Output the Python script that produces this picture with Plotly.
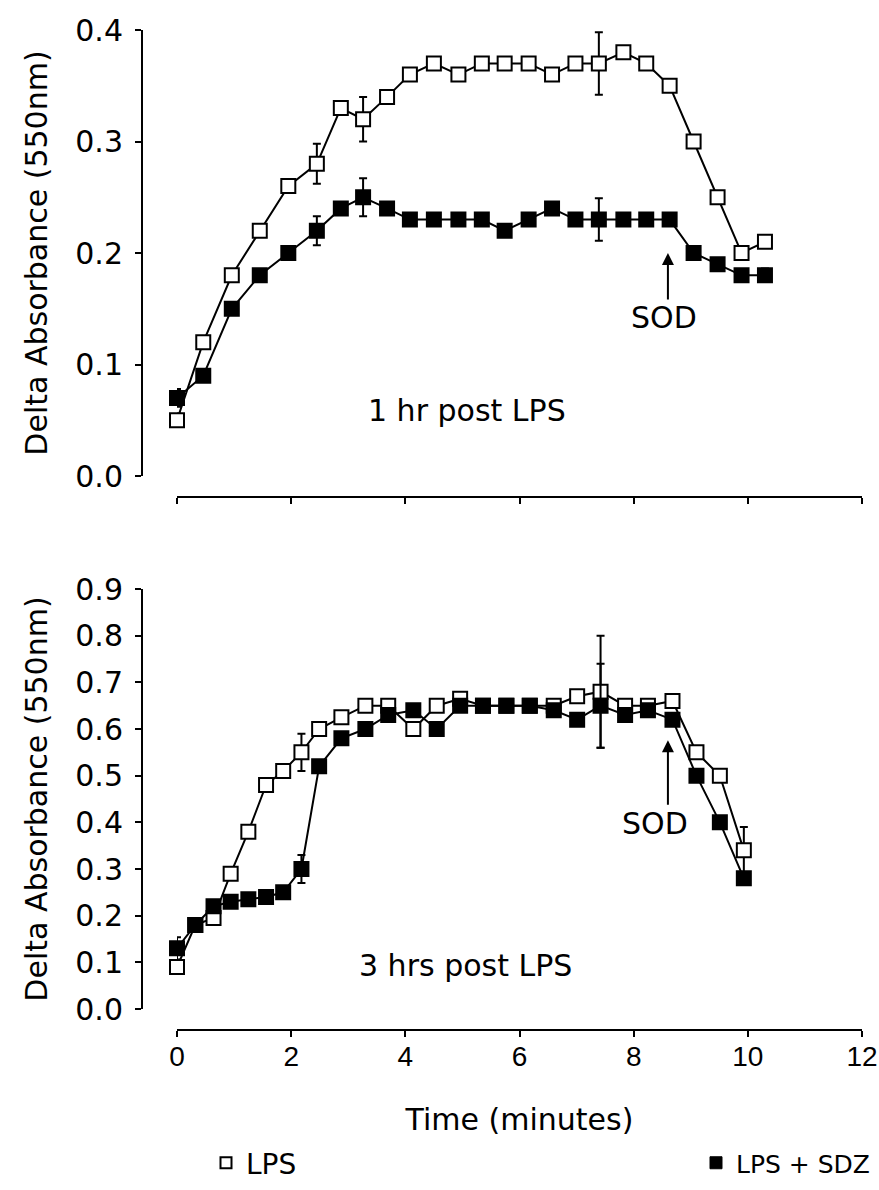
import plotly.graph_objects as go

# ---------------- data ----------------
time_1h = [0, 0.46, 0.96, 1.45, 1.95, 2.45, 2.87, 3.26, 3.68, 4.08, 4.5, 4.93, 5.34,
           5.74, 6.16, 6.57, 6.98, 7.39, 7.82, 8.22, 8.63, 9.05, 9.47, 9.89, 10.3]
lps_1h = [0.05, 0.12, 0.18, 0.22, 0.26, 0.28, 0.33, 0.32, 0.34, 0.36, 0.37, 0.36, 0.37,
          0.37, 0.37, 0.36, 0.37, 0.37, 0.38, 0.37, 0.35, 0.30, 0.25, 0.20, 0.21]
sdz_1h = [0.07, 0.09, 0.15, 0.18, 0.20, 0.22, 0.24, 0.25, 0.24, 0.23, 0.23, 0.23, 0.23,
          0.22, 0.23, 0.24, 0.23, 0.23, 0.23, 0.23, 0.23, 0.20, 0.19, 0.18, 0.18]
lps_1h_err = [0.006, None, None, None, None, 0.018, None, 0.02, None, None, None, None, None,
              None, None, None, None, 0.028, None, None, None, None, None, None, None]
sdz_1h_err = [0.008, None, None, None, None, 0.013, None, 0.017, None, None, None, None, None,
              None, None, None, None, 0.019, None, None, None, None, None, None, 0.006]

time_3h = [0, 0.32, 0.64, 0.94, 1.25, 1.56, 1.86, 2.18, 2.49, 2.88, 3.3, 3.7, 4.14, 4.55,
           4.96, 5.36, 5.77, 6.18, 6.6, 7.01, 7.42, 7.85, 8.25, 8.68, 9.1, 9.51, 9.93]
lps_3h = [0.09, 0.18, 0.195, 0.29, 0.38, 0.48, 0.51, 0.55, 0.60, 0.625, 0.65, 0.65, 0.60, 0.65,
          0.665, 0.65, 0.65, 0.65, 0.65, 0.67, 0.68, 0.65, 0.65, 0.66, 0.55, 0.50, 0.34]
sdz_3h = [0.13, 0.18, 0.22, 0.23, 0.235, 0.24, 0.25, 0.30, 0.52, 0.58, 0.60, 0.63, 0.64, 0.60,
          0.65, 0.65, 0.65, 0.65, 0.64, 0.62, 0.65, 0.63, 0.64, 0.62, 0.50, 0.40, 0.28]
lps_3h_err = [0.01, None, None, None, None, None, None, 0.04, None, None, None, None, None, None,
              None, None, None, None, None, None, 0.12, None, None, None, None, None, 0.05]
sdz_3h_err = [0.024, None, None, None, None, None, None, 0.03, None, None, None, None, None, None,
              None, None, None, None, None, None, 0.09, None, None, None, None, None, None]

x_ticks = [0, 2, 4, 6, 8, 10, 12]
series_names = ["LPS", "LPS + SDZ"]
y_title = "Delta Absorbance (550nm)"
x_title = "Time (minutes)"
panel_labels = ["1 hr post LPS", "3 hrs post LPS"]
sod_label = "SOD"

# ---------------- layout helpers ----------------
W, H = 879, 1190              # page margin is removed below, so the figure fills the window
FONT = "DejaVu Sans"
FS = 30


def fx(p):
    """page pixel x -> paper fraction"""
    return p / W


def fy(p):
    """page pixel y -> paper fraction"""
    return 1 - p / H


fig = go.Figure()


def add_series(t, v, err, filled, xa, ya):
    fig.add_trace(go.Scatter(
        x=t, y=v, mode="lines+markers", xaxis=xa, yaxis=ya,
        line=dict(color="black", width=2),
        marker=dict(symbol="square", size=14,
                    color="black" if filled else "white",
                    line=dict(color="black", width=2)),
        error_y=dict(type="data", array=err, color="black", thickness=2, width=4, visible=True),
        cliponaxis=False, showlegend=False, hoverinfo="x+y"))


add_series(time_1h, lps_1h, lps_1h_err, False, "x", "y")
add_series(time_1h, sdz_1h, sdz_1h_err, True, "x", "y")
add_series(time_3h, lps_3h, lps_3h_err, False, "x2", "y2")
add_series(time_3h, sdz_3h, sdz_3h_err, True, "x2", "y2")

# legend-only entries (one per legend box)
fig.add_trace(go.Scatter(x=[None], y=[None], mode="markers", name=series_names[0],
                         legend="legend",
                         marker=dict(symbol="square", size=11, color="white",
                                     line=dict(color="black", width=2))))
fig.add_trace(go.Scatter(x=[None], y=[None], mode="markers", name=series_names[1],
                         legend="legend2",
                         marker=dict(symbol="square", size=12, color="black",
                                     line=dict(color="black", width=1))))

axc = dict(showline=True, linecolor="black", linewidth=2, ticks="outside", ticklen=6,
           tickwidth=2, tickcolor="black", showgrid=False, zeroline=False, automargin=False,
           ticklabeloverflow="allow", fixedrange=True)
yfont = dict(family=FONT, size=FS, color="black")
xfont = dict(family="Liberation Sans", size=28, color="black")

leg_common = dict(orientation="h", yanchor="middle", itemsizing="trace",
                  bgcolor="rgba(0,0,0,0)", borderwidth=0, itemwidth=30)

fig.update_layout(
    width=W, height=H, autosize=False,
    margin=dict(l=0, r=0, t=0, b=0, autoexpand=False),
    paper_bgcolor="white", plot_bgcolor="white",
    font=dict(family=FONT, size=FS, color="black"),
    xaxis=dict(domain=[fx(177), fx(862)], range=[0, 12], tickvals=x_ticks,
               anchor="free", position=fy(497), showticklabels=False,
               tickfont=xfont, **axc),
    yaxis=dict(domain=[fy(476), fy(30)], range=[0, 0.4], dtick=0.1, tick0=0,
               tickformat=".1f", anchor="free", position=fx(142), ticklabelstandoff=6,
               tickfont=yfont,
               title=dict(text=y_title, standoff=18,
                          font=dict(family=FONT, size=FS, color="black")), **axc),
    xaxis2=dict(domain=[fx(177), fx(862)], range=[0, 12], tickvals=x_ticks,
                anchor="free", position=fy(1030), ticklabelstandoff=-5,
                tickfont=xfont,
                title=dict(text=x_title, standoff=37,
                           font=dict(family=FONT, size=FS, color="black")), **axc),
    yaxis2=dict(domain=[fy(1009), fy(589)], range=[0, 0.9], dtick=0.1, tick0=0,
                tickformat=".1f", anchor="free", position=fx(142), ticklabelstandoff=6,
                tickfont=yfont,
                title=dict(text=y_title, standoff=18,
                           font=dict(family=FONT, size=FS, color="black")), **axc),
    legend=dict(x=fx(206), xanchor="left", y=fy(1163),
                font=dict(family=FONT, size=28, color="black"), **leg_common),
    legend2=dict(x=fx(875), xanchor="right", y=fy(1163),
                 font=dict(family=FONT, size=25, color="black"), **leg_common),
    showlegend=True,
)

ann_font = dict(family=FONT, size=FS, color="black")
fig.add_annotation(xref="x", yref="y", x=5.08, y=0.059, text=panel_labels[0],
                   showarrow=False, font=ann_font)
fig.add_annotation(xref="x2", yref="y2", x=5.06, y=0.094, text=panel_labels[1],
                   showarrow=False, font=ann_font)
# SOD arrows
fig.add_annotation(xref="x", yref="y", x=8.6, y=0.2, ax=0, ay=48, text="",
                   showarrow=True, arrowhead=2, arrowsize=1.2, arrowwidth=2, arrowcolor="black")
fig.add_annotation(xref="x", yref="y", x=8.54, y=0.142, text=sod_label,
                   showarrow=False, font=ann_font)
fig.add_annotation(xref="x2", yref="y2", x=8.6, y=0.576, ax=0, ay=66, text="",
                   showarrow=True, arrowhead=2, arrowsize=1.2, arrowwidth=2, arrowcolor="black")
fig.add_annotation(xref="x2", yref="y2", x=8.37, y=0.398, text=sod_label,
                   showarrow=False, font=ann_font)

fig.write_html("out.html", config={"displayModeBar": False},
               post_script="document.body.style.margin='0';document.body.style.overflow='hidden';")
